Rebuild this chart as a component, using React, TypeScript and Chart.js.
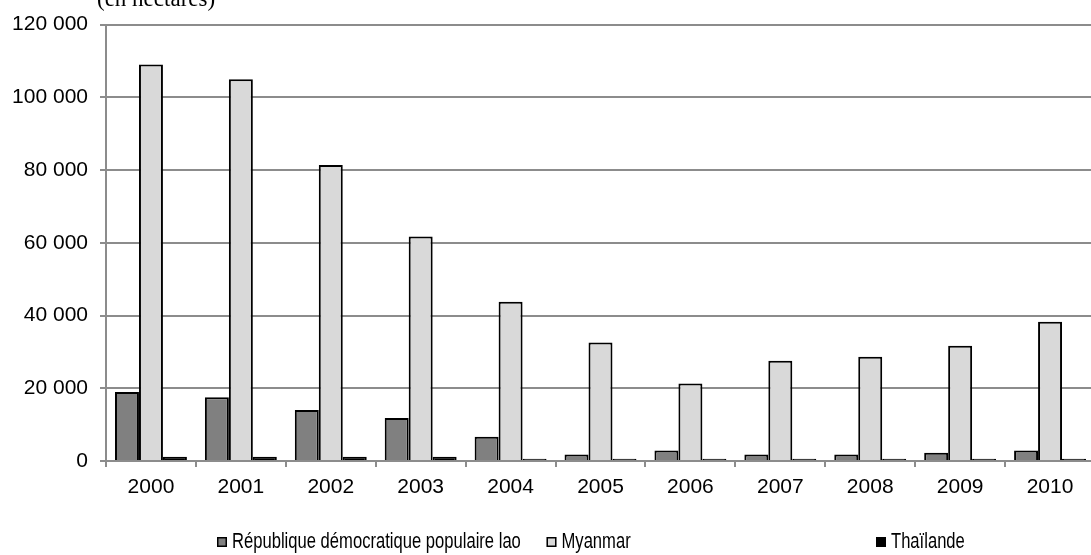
import React, { useEffect, useRef } from "react";
import { Chart, registerables } from "chart.js";

Chart.register(...registerables);

// Opium poppy cultivation by country, 2000–2010 (hectares)
const years = ["2000", "2001", "2002", "2003", "2004", "2005", "2006", "2007", "2008", "2009", "2010"];
const laoValues = [19000, 17500, 14000, 11800, 6700, 1800, 2900, 1800, 1800, 2300, 2900];
const myanmarValues = [109000, 105000, 81400, 61700, 43800, 32600, 21300, 27600, 28700, 31700, 38300];
const thaiValues = [1200, 1200, 1200, 1200, 600, 600, 600, 600, 600, 600, 600];
const seriesNames = ["République démocratique populaire lao", "Myanmar", "Thaïlande"];
const unitLabel = "(en hectares)";

const SANS = "'Liberation Sans', Arial, sans-serif";
const SERIF = "'Liberation Serif', 'Times New Roman', serif";

const formatThousands = (v: number) => String(v).replace(/\B(?=(\d{3})+(?!\d))/g, " ");

// Unit caption above the value axis and an evenly spaced legend row underneath
const decorations = {
  id: "decorations",
  afterDraw(chart: Chart) {
    const ctx = chart.ctx;
    ctx.save();
    ctx.fillStyle = "#000";
    ctx.font = `23px ${SERIF}`;
    ctx.textAlign = "left";
    ctx.textBaseline = "alphabetic";
    ctx.fillText(unitLabel, 97, 6);

    ctx.font = `20px ${SANS}`;
    ctx.textBaseline = "middle";
    chart.data.datasets.forEach((ds: any, i: number) => {
      const x = 217 + i * 329.5;
      const y = 537;
      ctx.fillStyle = ds.backgroundColor;
      ctx.fillRect(x, y, 10, 10);
      ctx.strokeStyle = "#000";
      ctx.lineWidth = 1.5;
      ctx.strokeRect(x + 0.75, y + 0.75, 8.5, 8.5);
      ctx.fillStyle = "#000";
      // condensed, slightly tall legend lettering
      ctx.save();
      ctx.translate(x + 15, y + 5);
      ctx.scale(0.83, 1.12);
      ctx.fillText(ds.label, 0, 0);
      ctx.restore();
    });
    ctx.restore();
  },
};

export default function App() {
  const canvasRef = useRef<HTMLCanvasElement | null>(null);

  useEffect(() => {
    if (!canvasRef.current) return;
    const barStyle = { borderColor: "#000", borderWidth: 2, categoryPercentage: 0.8, barPercentage: 1.0 };
    const chart = new Chart(canvasRef.current, {
      type: "bar",
      data: {
        labels: years,
        datasets: [
          { label: seriesNames[0], data: laoValues, backgroundColor: "#808080", ...barStyle },
          { label: seriesNames[1], data: myanmarValues, backgroundColor: "#d9d9d9", ...barStyle },
          { label: seriesNames[2], data: thaiValues, backgroundColor: "#000000", ...barStyle },
        ],
      },
      options: {
        responsive: false,
        animation: false,
        layout: { padding: { top: 22, right: 5, bottom: 54, left: 0 } },
        plugins: {
          legend: { display: false },
          tooltip: { enabled: false },
          title: { display: false },
        },
        scales: {
          x: {
            grid: {
              offset: true,
              drawOnChartArea: false,
              drawTicks: true,
              tickLength: 6,
              color: "#8c8c8c",
              lineWidth: 2,
            },
            border: { color: "#8c8c8c", width: 2 },
            ticks: { color: "#000", font: { family: SANS, size: 21 }, padding: 8, maxRotation: 0 },
            afterFit: (axis: any) => {
              axis.height = 40;
            },
          },
          y: {
            min: 0,
            max: 120000,
            grid: { color: "#8c8c8c", lineWidth: 2, tickLength: 6 },
            border: { color: "#8c8c8c", width: 2 },
            ticks: {
              stepSize: 20000,
              color: "#000",
              padding: 12,
              font: { family: SANS, size: 21 },
              callback: (v: any) => formatThousands(Number(v)),
            },
            afterFit: (axis: any) => {
              axis.width = 106;
            },
          },
        },
      },
      plugins: [decorations],
    });
    return () => chart.destroy();
  }, []);

  return (
    <div
      style={{
        position: "fixed",
        left: 0,
        top: 0,
        width: 1091,
        height: 555,
        overflow: "hidden",
        background: "#fff",
      }}
    >
      <canvas ref={canvasRef} width={1100} height={555} style={{ display: "block" }} />
    </div>
  );
}
